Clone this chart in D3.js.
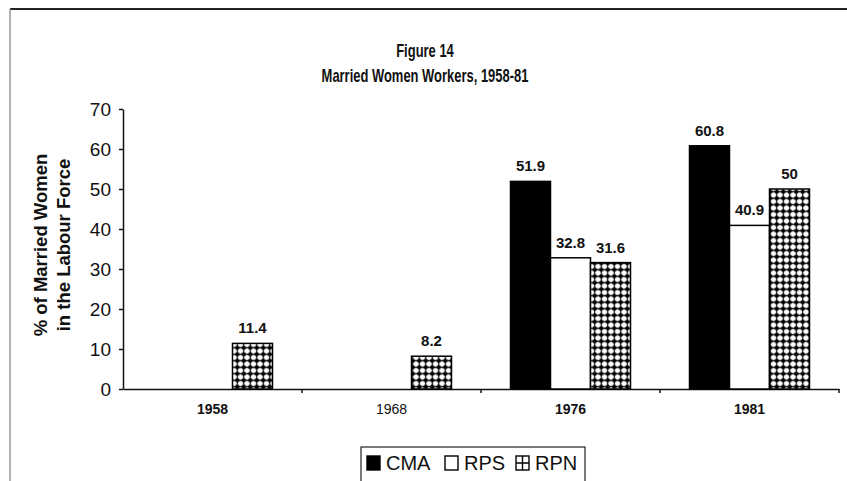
<!DOCTYPE html>
<html>
<head>
<meta charset="utf-8">
<script src="https://cdn.jsdelivr.net/npm/d3@7/dist/d3.min.js"></script>
<style>
    body { margin: 0; background: #fff; }
    text { font-family: "Liberation Sans", Arial, sans-serif; fill: #111; }
</style>
</head>
<body>
<script>
    var years = ["1958", "1968", "1976", "1981"];
    var seriesNames = ["CMA", "RPS", "RPN"];
    var cma = [null, null, 51.9, 60.8];
    var rps = [null, null, 32.8, 40.9];
    var rpn = [11.4, 8.2, 31.6, 50];
    var yTicks = [0, 10, 20, 30, 40, 50, 60, 70];
    var titleLines = ["Figure 14", "Married Women Workers, 1958-81"];
    var yTitleLines = ["% of Married Women", "in the Labour Force"];

    var width = 847, height = 481;
    var margin = {"top" : 109, "bottom" : 92, "left" : 123, "right" : 8};

    var svg = d3.select("body")
        .append("svg")
        .attr("width", width)
        .attr("height", height);

    svg.append("rect").attr("width", width).attr("height", height).attr("fill", "#fff");

    // pattern for RPN bars
    var defs = svg.append("defs");
    var pat = defs.append("pattern")
        .attr("id", "dots")
        .attr("patternUnits", "userSpaceOnUse")
        .attr("width", 6.5)
        .attr("height", 6.5);
    pat.append("rect").attr("width", 6.5).attr("height", 6.5).attr("fill", "#fff");
    pat.append("path").attr("d", "M3.25,0V6.5M0,3.25H6.5").attr("stroke", "#000").attr("stroke-width", 1.2);
    pat.append("circle").attr("cx", 3.25).attr("cy", 3.25).attr("r", 2.2).attr("fill", "#000");

    // frame
    svg.append("line").attr("x1", 10).attr("x2", width).attr("y1", 9).attr("y2", 9)
        .attr("stroke", "#222").attr("stroke-width", 2);
    svg.append("line").attr("x1", 10).attr("x2", 10).attr("y1", 9).attr("y2", height)
        .attr("stroke", "#999").attr("stroke-width", 1.5);

    var x = d3.scaleBand()
        .domain(years)
        .range([margin.left, width - margin.right]);

    var groupW = 120;
    var xSub = d3.scaleBand()
        .domain(seriesNames)
        .range([(x.bandwidth() - groupW) / 2, (x.bandwidth() + groupW) / 2]);

    var y = d3.scaleLinear()
        .domain([0, 70])
        .range([height - margin.bottom, margin.top]);

    // title (narrow bold face, as in the scan)
    svg.append("g").selectAll("text")
        .data(titleLines)
        .enter()
        .append("text")
        .attr("transform", (d, i) => "translate(425," + (57 + i * 25) + ") scale(0.72,1)")
        .attr("text-anchor", "middle")
        .style("font-size", "18px")
        .style("font-weight", "bold")
        .text(d => d);

    // y axis title
    svg.append("g").selectAll("text")
        .data(yTitleLines)
        .enter()
        .append("text")
        .attr("transform", (d, i) => "translate(" + (47 + i * 23) + "," + 245 + ") rotate(-90)")
        .attr("text-anchor", "middle")
        .style("font-size", "18.5px")
        .style("font-weight", "bold")
        .text(d => d);

    // y axis
    var yAxis = svg.append("g")
        .attr("transform", "translate(" + margin.left + ",0)")
        .call(d3.axisLeft(y).tickValues(yTicks).tickSize(4).tickPadding(8).tickSizeOuter(0));
    yAxis.selectAll("text").style("font-size", "19px").attr("fill", "#111");
    yAxis.selectAll("line, path").attr("stroke", "#111").attr("stroke-width", 1.5);

    // x axis
    var xAxis = svg.append("g")
        .attr("transform", "translate(0," + y(0) + ")")
        .call(d3.axisBottom(x).tickSize(0).tickPadding(15).tickSizeOuter(0));
    xAxis.select("path").attr("stroke", "#111").attr("stroke-width", 1.5);
    xAxis.selectAll("text")
        .style("font-size", "14px")
        .style("font-weight", d => d == "1968" ? "normal" : "bold");

    // tick marks between categories
    svg.append("g").selectAll("line")
        .data(years)
        .enter()
        .append("line")
        .attr("x1", d => x(d) + x.bandwidth())
        .attr("x2", d => x(d) + x.bandwidth())
        .attr("y1", y(0))
        .attr("y2", y(0) + 4)
        .attr("stroke", "#111")
        .attr("stroke-width", 1.5);

    // bars
    var fills = {"CMA" : "#000", "RPS" : "#fff", "RPN" : "url(#dots)"};
    var series = [cma, rps, rpn];
    var bars = [];
    series.forEach(function(vals, s) {
        vals.forEach(function(v, i) {
            if (v != null) bars.push({"year" : years[i], "name" : seriesNames[s], "value" : v});
        });
    });

    svg.append("g").selectAll("rect")
        .data(bars)
        .enter()
        .append("rect")
        .attr("x", d => x(d.year) + xSub(d.name))
        .attr("y", d => y(d.value))
        .attr("width", xSub.bandwidth())
        .attr("height", d => y(0) - y(d.value))
        .attr("fill", d => fills[d.name])
        .attr("stroke", "#000")
        .attr("stroke-width", 1.5);

    svg.append("g").selectAll("text")
        .data(bars)
        .enter()
        .append("text")
        .attr("x", d => x(d.year) + xSub(d.name) + xSub.bandwidth() / 2)
        .attr("y", d => y(d.value) - 10)
        .attr("text-anchor", "middle")
        .style("font-size", "15px")
        .style("font-weight", "bold")
        .text(d => d.value);

    // legend
    var legend = svg.append("g").attr("transform", "translate(361,447)");
    legend.append("rect")
        .attr("width", 224)
        .attr("height", 40)
        .attr("fill", "#fff")
        .attr("stroke", "#222")
        .attr("stroke-width", 1.2);

    var legendX = [6, 84, 155];
    var items = legend.selectAll("g")
        .data(seriesNames)
        .enter()
        .append("g")
        .attr("transform", (d, i) => "translate(" + legendX[i] + ",9)");
    items.append("rect")
        .attr("width", 13)
        .attr("height", 14)
        .attr("fill", d => d == "RPN" ? "#fff" : fills[d])
        .attr("stroke", "#000")
        .attr("stroke-width", 1.4);
    items.filter(d => d == "RPN").append("path")
        .attr("d", "M6.5,0V14M0,7H13")
        .attr("stroke", "#000")
        .attr("stroke-width", 1.4);
    items.append("text")
        .attr("x", 19)
        .attr("y", 14)
        .style("font-size", "20px")
        .text(d => d);
</script>
</body>
</html>
